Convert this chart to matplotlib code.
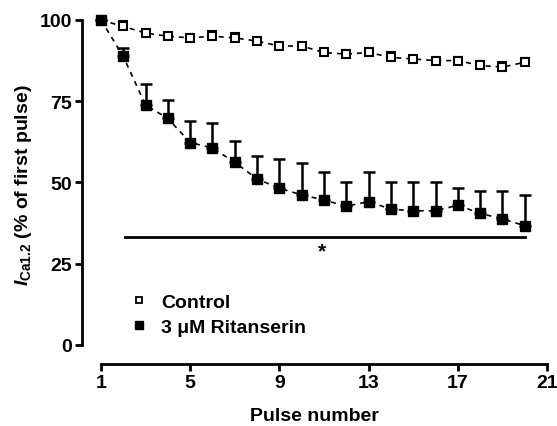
import matplotlib.pyplot as plt
from matplotlib.lines import Line2D
import numpy as np

plt.rcParams['font.family'] = ['Liberation Sans', 'DejaVu Sans']
plt.rcParams['font.weight'] = 'bold'
plt.rcParams['mathtext.fontset'] = 'custom'
plt.rcParams['mathtext.it'] = 'Liberation Sans:italic:bold'
plt.rcParams['mathtext.rm'] = 'Liberation Sans:bold'

pulses = np.arange(1, 21)

control = [100, 98, 96, 95, 94.5, 95, 94.5, 93.5, 92, 92,
           90, 89.5, 90, 88.5, 88, 87.5, 87.5, 86, 85.5, 87]
control_err = [0, 1.8, 1.2, 0.6, 1.2, 1.5, 1.5, 1.3, 0.8, 0.6,
               1.0, 1.3, 1.5, 1.5, 0.4, 0.5, 1.2, 1.5, 1.5, 1.3]

ritan = [100, 88.8, 73.8, 69.7, 62.3, 60.6, 56.2, 51.1, 48.2, 46.2,
         44.6, 42.7, 44.1, 41.8, 41.3, 41.3, 43.0, 40.5, 38.8, 36.7]
ritan_err = [0, 2.5, 6.6, 5.8, 6.5, 7.7, 6.5, 7.1, 9.0, 9.7,
             8.5, 7.5, 9.0, 8.4, 8.8, 8.8, 5.3, 7.0, 8.7, 9.3]

sig_start, sig_end, sig_y = 2.08, 20, 33.1
star_x, star_y = 10.9, 29

fig = plt.figure(figsize=(5.57, 4.27), dpi=100)
ax = fig.add_axes([0.1472, 0.1452, 0.835, 0.8437])

ax.errorbar(pulses, control, yerr=[np.zeros(20), control_err], fmt='s',
            mfc='white', mec='black', mew=1.5, ms=6, color='black',
            ecolor='black', elinewidth=1.5, capsize=3.5, capthick=1.5,
            ls=(0, (3, 3)), lw=1.2, zorder=3)
ax.errorbar(pulses, ritan, yerr=[np.zeros(20), ritan_err], fmt='s',
            mfc='black', mec='black', ms=7, color='black',
            ecolor='black', elinewidth=1.8, capsize=4, capthick=1.8,
            ls=(0, (3, 3)), lw=1.2, zorder=3)

ax.plot([sig_start, sig_end], [sig_y, sig_y], color='black', lw=2)
ax.text(star_x, star_y, '*', ha='center', va='center', fontsize=15)

ax.set_xlim(0.15, 21)
ax.set_ylim(-5.85, 105)
ax.set_xticks([1, 5, 9, 13, 17, 21])
ax.set_yticks([0, 25, 50, 75, 100])

for s in ['top', 'right']:
    ax.spines[s].set_visible(False)
ax.spines['left'].set_bounds(0, 100)
ax.spines['bottom'].set_bounds(1, 21)
ax.spines['left'].set_linewidth(2)
ax.spines['bottom'].set_linewidth(2)
ax.tick_params(width=2, length=5, labelsize=14, pad=2)

ax.set_xlabel('Pulse number', fontsize=14, fontweight='bold', labelpad=12)
ax.set_ylabel(r'$I_{\mathrm{Ca1.2}}$ (% of first pulse)', fontsize=14,
              fontweight='bold', labelpad=4)

handles = [
    Line2D([], [], marker='s', ls='none', mfc='white', mec='black', mew=1.3, ms=5),
    Line2D([], [], marker='s', ls='none', mfc='black', mec='black', ms=5.5),
]
ax.legend(handles, ['Control', '3 \u03bcM Ritanserin'], loc='lower left',
          bbox_to_anchor=(0.065, 0.03), frameon=False, fontsize=14,
          handletextpad=0.6, labelspacing=0.35, handlelength=1.0)

fig.savefig('out.png', dpi=100)
